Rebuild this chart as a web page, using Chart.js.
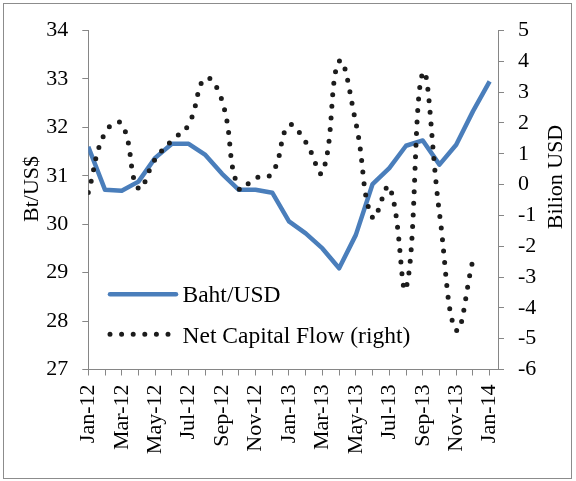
<!DOCTYPE html>
<html>
<head>
<meta charset="utf-8">
<script src="https://cdn.jsdelivr.net/npm/chart.js@4"></script>
<style>
html,body{margin:0;padding:0;background:#fff;}
canvas{display:block;}
</style>
</head>
<body>
<canvas id="c" width="576" height="481"></canvas>
<script>
const categories = ['Jan-12','Feb-12','Mar-12','Apr-12','May-12','Jun-12','Jul-12','Aug-12','Sep-12','Oct-12','Nov-12','Dec-12',
  'Jan-13','Feb-13','Mar-13','Apr-13','May-13','Jun-13','Jul-13','Aug-13','Sep-13','Oct-13','Nov-13','Dec-13','Jan-14'];
const bahtUSD = [31.60, 30.71, 30.69, 30.88, 31.37, 31.66, 31.66, 31.43, 31.04, 30.71, 30.71, 30.65,
  30.06, 29.81, 29.50, 29.09, 29.78, 30.83, 31.16, 31.62, 31.73, 31.23, 31.64, 32.33, 32.95];
const netCapitalFlow = [-0.26, 1.68, 1.97, -0.12, 0.82, 1.43, 1.95, 3.45, 2.72, -0.12, 0.21, 0.37,
  1.92, 1.38, 0.40, 4.00, 2.00, -1.07, -0.07, -3.36, 3.62, -0.93, -4.72, -2.45, null];
const leftTicks = [27, 28, 29, 30, 31, 32, 33, 34];
const rightTicks = [-6, -5, -4, -3, -2, -1, 0, 1, 2, 3, 4, 5];
const seriesNames = ['Baht/USD', 'Net Capital Flow (right)'];
const axisTitles = ['Bt/US$', 'Bilion USD'];

const FONT = '"Liberation Serif", "Times New Roman", serif';
const BLUE = '#4a7ebb';
const DOT = '#1c1c1c';
const GRAY = '#868686';

const extras = {
  id: 'extras',
  afterDraw(chart) {
    const ctx = chart.ctx;
    ctx.save();
    // outer frame
    ctx.strokeStyle = '#8c8c8c';
    ctx.lineWidth = 1;
    ctx.strokeRect(3.5, 3.5, 568, 475);
    // axis titles
    ctx.fillStyle = '#000';
    ctx.font = '22px ' + FONT;
    ctx.textAlign = 'center';
    ctx.textBaseline = 'middle';
    ctx.save();
    ctx.translate(32, 189);
    ctx.rotate(-Math.PI / 2);
    ctx.fillText(axisTitles[0], 0, 0);
    ctx.restore();
    ctx.save();
    ctx.translate(556, 177);
    ctx.rotate(-Math.PI / 2);
    ctx.fillText(axisTitles[1], 0, 0);
    ctx.restore();
    // legend
    ctx.lineCap = 'round';
    ctx.strokeStyle = BLUE;
    ctx.lineWidth = 4.5;
    ctx.beginPath();
    ctx.moveTo(110, 294.3);
    ctx.lineTo(176, 294.3);
    ctx.stroke();
    ctx.strokeStyle = DOT;
    ctx.lineWidth = 5;
    ctx.setLineDash([0, 11.6]);
    ctx.beginPath();
    ctx.moveTo(110, 334.3);
    ctx.lineTo(170, 334.3);
    ctx.stroke();
    ctx.setLineDash([]);
    ctx.font = '23.5px ' + FONT;
    ctx.textAlign = 'left';
    ctx.textBaseline = 'alphabetic';
    ctx.fillText(seriesNames[0], 182.5, 301.5);
    ctx.fillText(seriesNames[1], 182.5, 343.3);
    ctx.restore();
  }
};

const gridCommon = {
  drawOnChartArea: false,
  drawTicks: true,
  tickLength: 6,
  color: GRAY,
  lineWidth: 1
};

new Chart(document.getElementById('c'), {
  type: 'line',
  data: {
    datasets: [
      {
        label: seriesNames[1],
        data: netCapitalFlow.map((v, i) => ({x: i, y: v})),
        yAxisID: 'y1',
        borderColor: DOT,
        borderWidth: 5,
        borderDash: [0, 11.6],
        borderCapStyle: 'round',
        tension: 0.45,
        pointRadius: 0,
        fill: false,
        spanGaps: false,
        order: 0
      },
      {
        label: seriesNames[0],
        data: bahtUSD.map((v, i) => ({x: i, y: v})),
        yAxisID: 'y',
        borderColor: BLUE,
        borderWidth: 4.5,
        borderJoinStyle: 'round',
        borderCapStyle: 'butt',
        tension: 0,
        pointRadius: 0,
        fill: false,
        order: 1
      }
    ]
  },
  options: {
    responsive: false,
    animation: false,
    layout: {padding: {top: 30.5, left: 0, right: 0, bottom: 0}},
    plugins: {legend: {display: false}, tooltip: {enabled: false}},
    scales: {
      x: {
        type: 'linear',
        min: 0,
        max: 24.5,
        afterBuildTicks(scale) { scale.ticks = categories.map((c, i) => ({value: i})); },
        afterFit(scale) { scale.height = 111.5; },
        grid: gridCommon,
        border: {display: true, color: GRAY, width: 1},
        ticks: {
          autoSkip: false,
          maxRotation: 90,
          minRotation: 90,
          padding: 9,
          color: '#000',
          font: {family: FONT, size: 22},
          callback: (v) => (Number.isInteger(v) && v % 2 === 0) ? categories[v] : ''
        }
      },
      y: {
        type: 'linear',
        position: 'left',
        min: leftTicks[0],
        max: leftTicks[leftTicks.length - 1],
        afterBuildTicks(scale) { scale.ticks = leftTicks.map(v => ({value: v})); },
        afterFit(scale) { scale.width = 88.3; },
        grid: gridCommon,
        border: {display: true, color: GRAY, width: 1},
        ticks: {padding: 14, color: '#000', font: {family: FONT, size: 22}}
      },
      y1: {
        type: 'linear',
        position: 'right',
        min: rightTicks[0],
        max: rightTicks[rightTicks.length - 1],
        afterBuildTicks(scale) { scale.ticks = rightTicks.map(v => ({value: v})); },
        afterFit(scale) { scale.width = 78; },
        grid: gridCommon,
        border: {display: true, color: GRAY, width: 1},
        ticks: {padding: 14, color: '#000', font: {family: FONT, size: 22}}
      }
    }
  },
  plugins: [extras]
});
</script>
</body>
</html>
